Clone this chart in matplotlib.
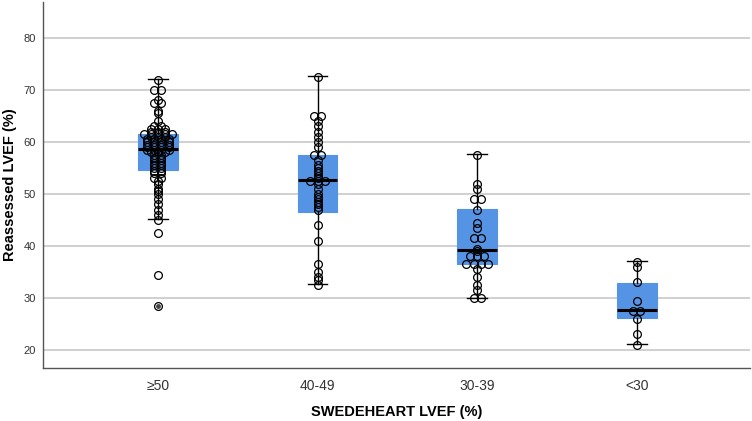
import matplotlib
matplotlib.use("Agg")
import matplotlib.pyplot as plt
import numpy as np

# ---------------- data ----------------
categories = ['≥50', '40-49', '30-39', '<30']

vals_ge50 = [72, 70, 70, 68, 67.5, 67.5, 66, 65.5, 64, 63, 63,
             62.5, 62.5, 62.5, 62, 62, 62, 61.5, 61.5, 61.5, 61.5, 61.5,
             61, 61, 61, 60.5, 60.5, 60.5, 60.5, 60, 60, 60, 60,
             59.5, 59.5, 59.5, 59.5, 59, 59, 59, 59, 58.5, 58.5, 58.5, 58.5,
             58, 58, 58, 57.5, 57.5, 57, 57, 56.5, 56.5, 56, 56, 55.5, 55.5,
             55, 55, 54.5, 54.5, 54, 54, 53, 53, 52.5, 52, 51, 50.5, 50,
             49, 48, 47, 46, 45, 42.5, 34.5]
vals_40_49 = [72.5, 65, 65, 64, 63, 62, 61, 60, 59, 57.5, 57.5, 56.5,
              55.5, 55, 54.5, 54, 53.5, 53, 52.5, 52.5, 52.5, 52, 51, 50,
              49.5, 49, 48.5, 48, 47.5, 47, 44, 41, 36.5, 35, 34, 33.5, 32.5]
vals_30_39 = [57.5, 52, 51, 49, 49, 47, 44.5, 43.5, 41.5, 41.5, 39.5, 39,
              38, 38, 38, 36.5, 36.5, 36.5, 36.5, 35.5, 34, 32.5, 31.5, 30, 30]
vals_lt30 = [37, 36, 33, 29.5, 27.5, 27.5, 26, 23, 21]
extreme_ge50 = [28.5]

q1 = [54.6, 46.6, 36.6, 26.1]
medians = [58.6, 52.7, 39.2, 27.6]
q3 = [61.5, 57.5, 47.1, 32.9]
whisk_lo = [45.1, 32.6, 30.0, 21.1]
whisk_hi = [72.1, 72.7, 57.6, 37.1]

groups = [vals_ge50, vals_40_49, vals_30_39, vals_lt30]

# ---------------- styling ----------------
plt.rcParams['font.family'] = ['Liberation Sans', 'DejaVu Sans']
box_color = '#5593e4'
text_color = '#333333'

fig = plt.figure(figsize=(7.52, 4.21), dpi=100)
ax = fig.add_axes([43 / 752, 1 - 368 / 421, 707 / 752, 366 / 421])

stats = []
for i in range(len(categories)):
    stats.append(dict(med=medians[i], q1=q1[i], q3=q3[i],
                      whislo=whisk_lo[i], whishi=whisk_hi[i], fliers=[]))

positions = np.arange(len(categories))
bp = ax.bxp(stats, positions=positions, widths=0.25, patch_artist=True,
            showfliers=False, capwidths=0.125,
            boxprops=dict(facecolor=box_color, edgecolor=box_color, linewidth=0.8),
            medianprops=dict(color='black', linewidth=2.2),
            whiskerprops=dict(color='black', linewidth=1.0),
            capprops=dict(color='black', linewidth=1.0),
            zorder=2)


def dot_offsets(values, binw=0.5, step=0.045):
    v = np.asarray(values, dtype=float)
    bins = np.round(v / binw).astype(int)
    off = np.zeros_like(v)
    for b in np.unique(bins):
        idx = np.where(bins == b)[0]
        n = len(idx)
        for k, j in enumerate(idx):
            off[j] = (k - (n - 1) / 2) * step
    return off


for i, vals in enumerate(groups):
    off = dot_offsets(vals)
    ax.plot(positions[i] + off, vals, linestyle='none', marker='o',
            markersize=5.6, markerfacecolor='none', markeredgecolor='black',
            markeredgewidth=0.9, zorder=4)

# extreme value (circle with inner dot)
ax.plot([positions[0]] * len(extreme_ge50), extreme_ge50, linestyle='none',
        marker='o', markersize=5.6, markerfacecolor='none',
        markeredgecolor='black', markeredgewidth=0.9, zorder=4)
ax.plot([positions[0]] * len(extreme_ge50), extreme_ge50, linestyle='none',
        marker='o', markersize=2.5, markerfacecolor='#444444',
        markeredgecolor='#444444', zorder=5)

ax.set_xlim(-0.72, 3.71)
ax.set_ylim(16.54, 86.9)
ax.set_yticks([20, 30, 40, 50, 60, 70, 80])
ax.set_xticks(positions)
ax.set_xticklabels(categories)

ax.grid(axis='y', color='#c8c8c8', linewidth=1.2, zorder=0)
ax.set_axisbelow(True)
ax.tick_params(axis='y', length=0, pad=5, labelsize=8, labelcolor=text_color)
ax.tick_params(axis='x', length=0, pad=8, labelsize=10, labelcolor=text_color)

for s in ['top', 'right']:
    ax.spines[s].set_visible(False)
for s in ['left', 'bottom']:
    ax.spines[s].set_color('#555555')
    ax.spines[s].set_linewidth(1.0)

ax.set_ylabel('Reassessed LVEF (%)', fontsize=10.5, fontweight='bold', color='black')
ax.set_xlabel('SWEDEHEART LVEF (%)', fontsize=10.5, fontweight='bold', color='black')
ax.yaxis.set_label_coords((10 - 43) / 707, 0.5)
ax.xaxis.set_label_coords(0.5, (368 - 412) / 366)
ax.yaxis.label.set_verticalalignment('center')
ax.xaxis.label.set_verticalalignment('center')

fig.savefig('out.png', dpi=100)
